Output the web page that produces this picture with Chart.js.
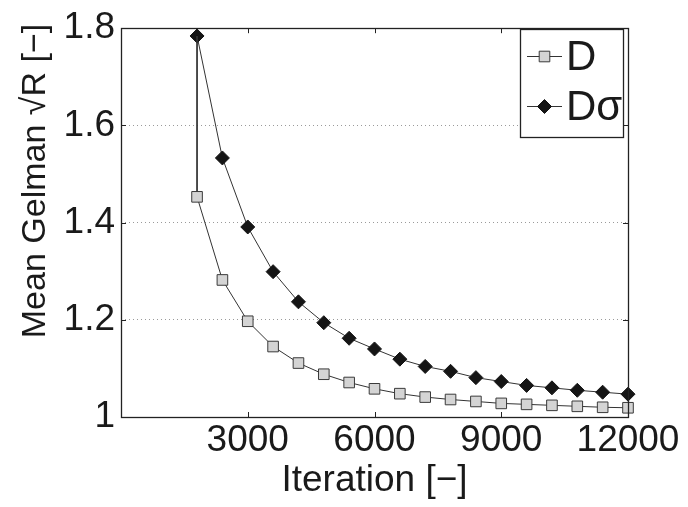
<!DOCTYPE html>
<html>
<head>
<meta charset="utf-8">
<script src="https://cdn.jsdelivr.net/npm/chart.js@4.4.0/dist/chart.umd.min.js"></script>
<style>
  html, body { margin: 0; padding: 0; background: #fff; }
  canvas { display: block; }
</style>
</head>
<body>
<canvas id="gelmanChart" width="688" height="507"></canvas>
<script>
// iterations at which R was evaluated
var iterations = [1800, 2400, 3000, 3600, 4200, 4800, 5400, 6000, 6600,
                  7200, 7800, 8400, 9000, 9600, 10200, 10800, 11400, 12000];
var valuesD = [1.453, 1.282, 1.197, 1.145, 1.111, 1.088, 1.071, 1.058, 1.048,
               1.041, 1.036, 1.032, 1.028, 1.026, 1.024, 1.022, 1.020, 1.019];
var valuesDsigma = [1.784, 1.533, 1.391, 1.299, 1.237, 1.194, 1.162, 1.140, 1.119,
                    1.104, 1.094, 1.081, 1.073, 1.065, 1.060, 1.055, 1.051, 1.047];
// the D curve starts at the top (unmarked) and drops straight down at 1800
var dStart = [1800, 1.784];
var xTicks = [3000, 6000, 9000, 12000];
var yTicks = [1, 1.2, 1.4, 1.6, 1.8];
var seriesNames = ['D', 'D\u03c3'];

Chart.defaults.font.family = "'Liberation Sans', Arial, sans-serif";
Chart.defaults.color = '#1a1a1a';

var dataD = [{ x: dStart[0], y: dStart[1] }];
iterations.forEach(function (it, i) { dataD.push({ x: it, y: valuesD[i] }); });
var dataDs = iterations.map(function (it, i) { return { x: it, y: valuesDsigma[i] }; });

var radiusD = dataD.map(function (p, i) { return i === 0 ? 0 : 7.5; });

// frame, inward ticks, rotated y title and boxed legend
var matlabLook = {
    id: 'matlabLook',
    afterDraw: function (chart) {
        var ctx = chart.ctx;
        var a = chart.chartArea;
        var xs = chart.scales.x, ys = chart.scales.y;
        ctx.save();
        ctx.strokeStyle = '#222';
        ctx.lineWidth = 1;
        ctx.beginPath();
        xTicks.forEach(function (v) {
            var px = Math.round(xs.getPixelForValue(v)) + 0.5;
            ctx.moveTo(px, a.bottom); ctx.lineTo(px, a.bottom - 5);
            ctx.moveTo(px, a.top); ctx.lineTo(px, a.top + 5);
        });
        yTicks.forEach(function (v) {
            var py = Math.round(ys.getPixelForValue(v)) + 0.5;
            ctx.moveTo(a.left, py); ctx.lineTo(a.left + 5, py);
            ctx.moveTo(a.right, py); ctx.lineTo(a.right - 5, py);
        });
        ctx.stroke();
        ctx.lineWidth = 1.3;
        ctx.strokeRect(Math.round(a.left) + 0.5, Math.round(a.top) + 0.5,
                       Math.round(a.right - a.left), Math.round(a.bottom - a.top));

        // y axis title
        ctx.fillStyle = '#1a1a1a';
        ctx.font = "34px 'Liberation Sans', Arial, sans-serif";
        ctx.textAlign = 'center';
        ctx.textBaseline = 'alphabetic';
        ctx.translate(45, 181);
        ctx.rotate(-Math.PI / 2);
        ctx.fillText('Mean Gelman \u221aR [\u2212]', 0, 0);
        ctx.setTransform(1, 0, 0, 1, 0, 0);

        // legend
        var bx = 520, by = 29, bw = 103, bh = 108;
        ctx.fillStyle = '#fff';
        ctx.fillRect(bx, by, bw, bh);
        ctx.lineWidth = 1.3;
        ctx.strokeStyle = '#222';
        ctx.strokeRect(bx + 0.5, by + 0.5, bw, bh);
        chart.data.datasets.forEach(function (ds, i) {
            var cy = 56 + i * 50;
            ctx.strokeStyle = ds.borderColor;
            ctx.lineWidth = 1;
            ctx.beginPath();
            ctx.moveTo(527, cy + 0.5); ctx.lineTo(562, cy + 0.5);
            ctx.stroke();
            ctx.fillStyle = ds.pointBackgroundColor;
            ctx.strokeStyle = ds.pointBorderColor;
            Chart.helpers.drawPoint(ctx, {
                pointStyle: ds.pointStyle, radius: ds.legendRadius,
                rotation: 0, borderWidth: 1
            }, 544.5, cy + 0.5);
            ctx.fillStyle = '#1a1a1a';
            ctx.font = "42px 'Liberation Sans', Arial, sans-serif";
            ctx.textAlign = 'left';
            ctx.textBaseline = 'middle';
            ctx.fillText(ds.label, 566, cy + 2);
        });
        ctx.restore();
    }
};

new Chart(document.getElementById('gelmanChart'), {
    type: 'line',
    data: {
        datasets: [{
            label: seriesNames[0],
            data: dataD,
            borderColor: '#333',
            borderWidth: 1,
            pointStyle: 'rect',
            pointRadius: radiusD,
            legendRadius: 7.5,
            pointBackgroundColor: '#d4d4d4',
            pointBorderColor: '#3a3a3a',
            pointBorderWidth: 1,
            tension: 0,
            clip: false
        }, {
            label: seriesNames[1],
            data: dataDs,
            borderColor: '#333',
            borderWidth: 1,
            pointStyle: 'rectRot',
            pointRadius: 7,
            legendRadius: 7,
            pointBackgroundColor: '#151515',
            pointBorderColor: '#151515',
            pointBorderWidth: 1,
            tension: 0,
            clip: false
        }]
    },
    options: {
        responsive: false,
        animation: false,
        devicePixelRatio: 1,
        layout: { padding: { left: 0, right: 60, top: 23, bottom: 0 } },
        plugins: {
            legend: { display: false },
            tooltip: { enabled: false }
        },
        scales: {
            x: {
                type: 'linear',
                min: 0,
                max: 12000,
                afterFit: function (scale) { scale.height = 90; },
                afterBuildTicks: function (scale) {
                    scale.ticks = xTicks.map(function (v) { return { value: v }; });
                },
                ticks: {
                    font: { size: 37 },
                    color: '#1a1a1a',
                    padding: 2,
                    maxRotation: 0,
                    autoSkip: false,
                    callback: function (v) { return String(v); }
                },
                grid: { display: false, drawTicks: false },
                border: { display: false },
                title: {
                    display: true,
                    text: 'Iteration [\u2212]',
                    font: { size: 37 },
                    color: '#1a1a1a',
                    padding: { top: 0, bottom: 4 }
                }
            },
            y: {
                min: 1,
                max: 1.8,
                afterFit: function (scale) { scale.width = 121; },
                afterBuildTicks: function (scale) {
                    scale.ticks = yTicks.map(function (v) { return { value: v }; });
                },
                ticks: {
                    font: { size: 37 },
                    color: '#1a1a1a',
                    padding: 6,
                    callback: function (v) { return String(Number(v.toFixed(1))); }
                },
                grid: {
                    drawTicks: false,
                    color: function (c) {
                        return (c.tick && (c.tick.value === 1 || c.tick.value === 1.8)) ? 'rgba(0,0,0,0)' : '#9a9a9a';
                    },
                    lineWidth: 1
                },
                border: { display: false, dash: [1, 3] }
            }
        }
    },
    plugins: [matlabLook]
});
</script>
</body>
</html>
